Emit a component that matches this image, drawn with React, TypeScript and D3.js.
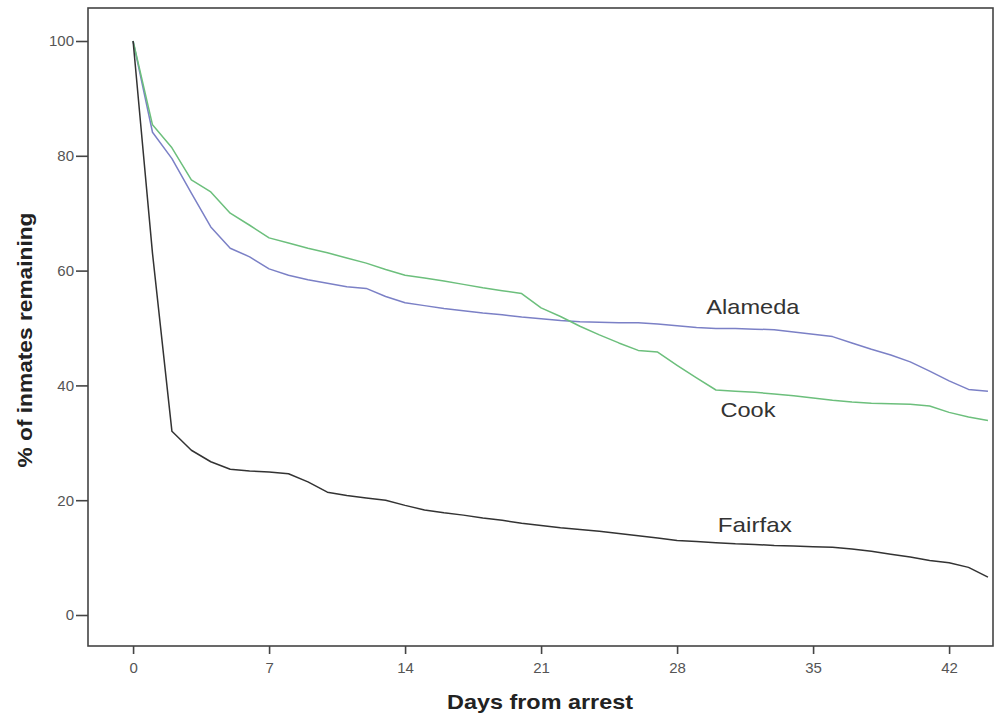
import React, { useEffect, useRef } from 'react';
import * as d3 from 'd3';

// days since arrest
const days = [0, 1, 2, 3, 4, 5, 6, 7, 8, 9, 10, 11, 12, 13, 14, 15, 16, 17, 18, 19, 20, 21,
  22, 23, 24, 25, 26, 27, 28, 29, 30, 31, 32, 33, 34, 35, 36, 37, 38, 39, 40, 41, 42, 43, 44];

const alameda = [100, 84.1, 79.5, 73.5, 67.6, 63.9, 62.4, 60.3, 59.2, 58.4, 57.8, 57.2, 56.9, 55.5,
  54.4, 53.9, 53.4, 53.0, 52.6, 52.3, 51.9, 51.6, 51.3, 51.1, 51.0, 50.9, 50.9, 50.7, 50.4, 50.1,
  49.9, 49.9, 49.8, 49.7, 49.3, 48.9, 48.5, 47.4, 46.3, 45.3, 44.1, 42.5, 40.8, 39.3, 39.0];

const cook = [100, 85.4, 81.4, 75.8, 73.7, 70.0, 67.9, 65.7, 64.8, 63.9, 63.1, 62.2, 61.3, 60.2,
  59.2, 58.7, 58.2, 57.6, 57.0, 56.5, 56.0, 53.5, 52.0, 50.3, 48.8, 47.4, 46.1, 45.8, 43.5, 41.3,
  39.2, 39.0, 38.8, 38.5, 38.2, 37.8, 37.4, 37.1, 36.9, 36.8, 36.7, 36.4, 35.3, 34.5, 33.9];

const fairfax = [100, 63, 32, 28.7, 26.7, 25.4, 25.1, 24.9, 24.6, 23.2, 21.4, 20.8, 20.4, 20.0,
  19.1, 18.3, 17.8, 17.4, 16.9, 16.5, 16.0, 15.6, 15.2, 14.9, 14.6, 14.2, 13.8, 13.4, 13.0, 12.8,
  12.6, 12.4, 12.3, 12.1, 12.0, 11.9, 11.8, 11.5, 11.1, 10.6, 10.1, 9.5, 9.1, 8.3, 6.6];

const seriesNames = ['Alameda', 'Cook', 'Fairfax'];
const seriesColors = ['#7b80c6', '#6cbf7c', '#333333'];
// where the names sit on the chart (day, percent)
const labelDays = [31.9, 31.65, 32];
const labelValues = [53.7, 35.7, 15.7];

const xTicks = [0, 7, 14, 21, 28, 35, 42];
const yTicks = [0, 20, 40, 60, 80, 100];

function Chart() {
  const ref = useRef<SVGSVGElement>(null);

  useEffect(() => {
    const svg = d3.select(ref.current);
    svg.selectAll('*').remove();

    const left = 88, top = 8, right = 993, bottom = 646;
    const font = 'Arial, "Liberation Sans", sans-serif';

    const x = d3.scaleLinear().domain([-2.32, 44.26]).range([left, right]);
    const y = d3.scaleLinear().domain([-5.4, 105.75]).range([bottom, top]);

    const series = [alameda, cook, fairfax];

    const line = d3.line<number>()
      .x((d, i) => x(days[i]))
      .y(d => y(d));

    series.forEach((vals, i) => {
      svg.append('path')
        .attr('d', line(vals))
        .attr('fill', 'none')
        .attr('stroke', seriesColors[i])
        .attr('stroke-width', 1.5)
        .attr('stroke-linejoin', 'round');
    });

    // frame
    svg.append('rect')
      .attr('x', left).attr('y', top)
      .attr('width', right - left).attr('height', bottom - top)
      .attr('fill', 'none')
      .attr('stroke', '#444')
      .attr('stroke-width', 1.6);

    const xAxis = svg.append('g')
      .attr('transform', 'translate(0,' + bottom + ')')
      .call(d3.axisBottom(x).tickValues(xTicks).tickSize(8).tickPadding(8).tickFormat(d3.format('d')));
    xAxis.select('.domain').remove();

    const yAxis = svg.append('g')
      .attr('transform', 'translate(' + left + ',0)')
      .call(d3.axisLeft(y).tickValues(yTicks).tickSize(12).tickPadding(2).tickFormat(d3.format('d')));
    yAxis.select('.domain').remove();

    svg.selectAll('.tick line').attr('stroke', '#444').attr('stroke-width', 1.6);
    svg.selectAll('.tick text')
      .attr('fill', '#555')
      .style('font-family', font)
      .style('font-size', '15px');

    const labelWidths = [93, 55, 74];
    seriesNames.forEach((name, i) => {
      svg.append('text')
        .attr('x', x(labelDays[i]))
        .attr('y', y(labelValues[i]))
        .attr('dy', '0.35em')
        .attr('text-anchor', 'middle')
        .attr('textLength', labelWidths[i])
        .attr('lengthAdjust', 'spacingAndGlyphs')
        .attr('fill', '#333')
        .style('font-family', font)
        .style('font-size', '21px')
        .text(name);
    });

    svg.append('text')
      .attr('x', 540)
      .attr('y', 709)
      .attr('text-anchor', 'middle')
      .attr('textLength', 186)
      .attr('lengthAdjust', 'spacingAndGlyphs')
      .attr('fill', '#222')
      .style('font-family', font)
      .style('font-size', '21px')
      .style('font-weight', 'bold')
      .text('Days from arrest');

    svg.append('text')
      .attr('transform', 'translate(32,340) rotate(-90)')
      .attr('text-anchor', 'middle')
      .attr('textLength', 255)
      .attr('lengthAdjust', 'spacingAndGlyphs')
      .attr('fill', '#222')
      .style('font-family', font)
      .style('font-size', '20px')
      .style('font-weight', 'bold')
      .text('% of inmates remaining');
  }, []);

  return (
    <svg ref={ref} width={998} height={714}
      style={{ position: 'absolute', left: 0, top: 0, background: '#fff' }} />
  );
}

export default function App() {
  return <Chart />;
}
